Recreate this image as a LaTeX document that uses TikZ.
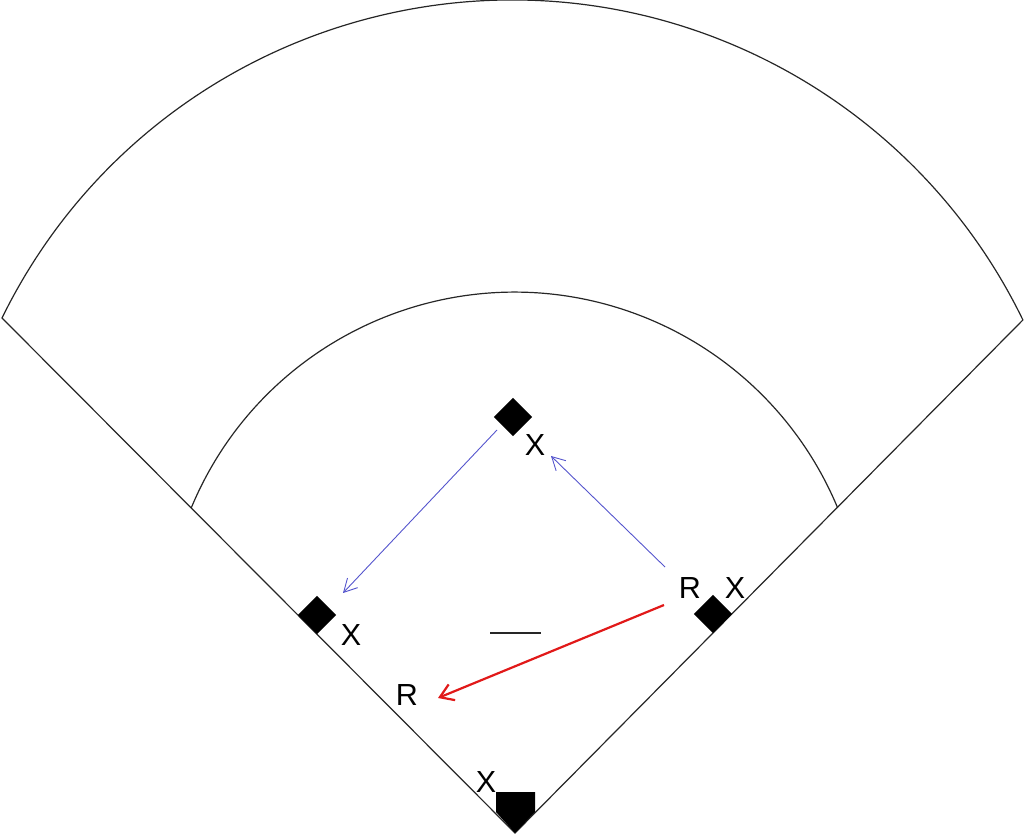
\documentclass[tikz,border=0pt]{standalone}
\usepackage{fontspec}
\setmainfont{Liberation Sans}
\usetikzlibrary{arrows.meta}
\definecolor{runblue}{RGB}{85,85,205}
\definecolor{runred}{RGB}{225,25,25}
\begin{document}
\begin{tikzpicture}[x=1pt,y=1pt,
  field/.style={draw=black!85,line width=1.2pt},
  basebox/.style={rectangle,fill=black,rotate=45,minimum size=27pt,inner sep=0pt},
  lbl/.style={inner sep=0pt,font=\fontsize{30.5}{30.5}\selectfont},
  bluerun/.style={draw=runblue,line width=0.9pt,-{Straight Barb[length=13pt,width=14pt,line width=0.9pt]}},
  redrun/.style={draw=runred,line width=2.2pt,-{Straight Barb[length=13pt,width=17pt,line width=2.2pt]}}]
\useasboundingbox (0,0) rectangle (1024,835);
% field
\coordinate (homeapex) at (515,2);
\coordinate (leftcorner) at (2,517);
\draw[field] (homeapex) -- (leftcorner) arc[start angle=153.88,end angle=25.9,radius=568] -- cycle;
\draw[field] (191.2,327) arc[start angle=157.46,end angle=22.56,radius=350];
% home plate
\fill[black] (496,43) -- (535,43) -- (535,23) -- (515,2) -- (496,23) -- cycle;
% bases
\node[basebox] (first) at (713,221) {};
\node[basebox] (second) at (513,418) {};
\node[basebox] (third) at (317,220) {};
% mound
\coordinate (moundL) at (490,202);
\coordinate (moundR) at (541,202);
\draw[black!85,line width=1.2pt] (moundL) -- (moundR);
% labels
\node[lbl] (xhome) at (486,53) {X};
\node[lbl] (rfirst) at (690,247) {R};
\node[lbl] (xfirst) at (735,247) {X};
\node[lbl] (xsecond) at (535,390) {X};
\node[lbl] (xthird) at (351,200) {X};
\node[lbl] (rthird) at (407,140) {R};
% runs
\coordinate (b1s) at (497,405);
\coordinate (b1e) at (343,242);
\coordinate (b2s) at (665,268);
\coordinate (b2e) at (551,379);
\coordinate (rs) at (664,230);
\coordinate (re) at (438,137);
\draw[bluerun] (b1s) -- (b1e);
\draw[bluerun] (b2s) -- (b2e);
\draw[redrun] (rs) -- (re);
\end{tikzpicture}
\end{document}
